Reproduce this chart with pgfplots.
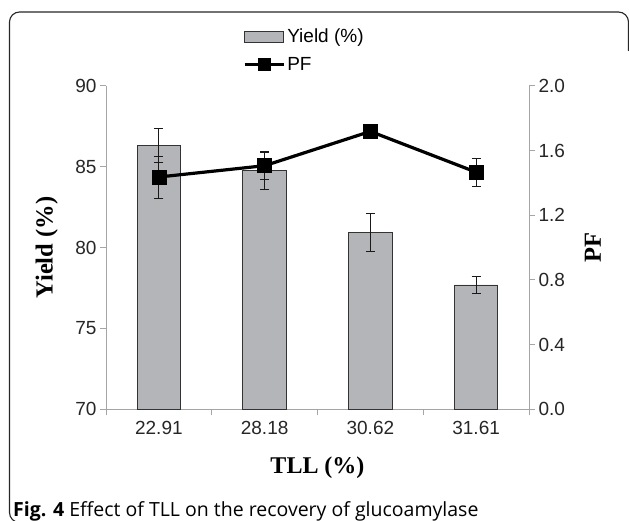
\documentclass[border=0pt]{standalone}
\usepackage{pgfplots}
\pgfplotsset{compat=1.18}
\usepackage{fontspec}
\setmainfont{Liberation Sans}
\newfontfamily\serifb{Liberation Serif}
\newfontfamily\capfont{Open Sans}

\definecolor{bargray}{RGB}{180,181,185}
\definecolor{axgray}{RGB}{165,165,165}

\pgfplotsset{
  barlegend/.style={legend image code/.code={\draw[##1] (0bp,-5.5bp) rectangle (39bp,5.5bp);}},
  linelegend/.style={legend image code/.code={\draw[##1, mark repeat=2, mark phase=2] plot coordinates {(0bp,0bp) (19.5bp,0bp) (39bp,0bp)};}},
}

\pgfplotstableread{
x y e
0 86.30 1.05
1 84.76 1.17
2 80.95 1.16
3 77.69 0.53
}\yieldtab

\pgfplotstableread{
x y e
0 1.437 0.130
1 1.507 0.085
2 1.719 0.000
3 1.467 0.088
}\pftab

\begin{document}
\begin{tikzpicture}[x=1bp,y=1bp]
\useasboundingbox (0bp,0bp) rectangle (629bp,521bp);
\draw[line width=1.1bp, color=black!85, rounded corners=10bp]
  (628.5bp,470bp) -- (628.5bp,509bp) -- (9.5bp,509bp) -- (9.5bp,-1.5bp) -- (660bp,-1.5bp);

\begin{axis}[
  at={(106bp,111.7bp)}, anchor=south west,
  scale only axis, width=423bp, height=323.3bp,
  xmin=-0.5, xmax=3.5, ymin=70, ymax=90,
  axis x line*=bottom, axis y line*=left,
  axis line style={axgray, line width=1bp},
  tick align=outside,
  major tick length=6bp, minor tick length=6bp,
  xtick={0,1,2,3}, xticklabels={22.91,28.18,30.62,31.61},
  minor xtick={-0.5,0.5,1.5,2.5,3.5},
  major x tick style={draw=none},
  minor x tick style={axgray, line width=1bp},
  ytick={70,75,80,85,90},
  y tick style={axgray, line width=1bp},
  tick label style={font=\fontsize{19bp}{22bp}\selectfont, text=black!85},
  /pgf/number format/assume math mode=true,
  xticklabel style={yshift=-2bp},
  xlabel={TLL (\%)},
  ylabel={Yield (\%)},
  every axis x label/.style={at={(axis description cs:0.5,-0.1816)}, anchor=center, font=\serifb\bfseries\fontsize{24bp}{26bp}\selectfont},
  every axis y label/.style={at={(axis description cs:-0.14,0.5)}, anchor=center, rotate=90, font=\serifb\bfseries\fontsize{24.5bp}{26bp}\selectfont},
  legend style={at={(axis description cs:0.324,1.183)}, anchor=north west, draw=none, fill=none,
    font=\fontsize{19bp}{22bp}\selectfont, row sep=9bp, inner sep=0pt, outer sep=0pt,
    /tikz/every even column/.append style={column sep=3bp}},
  legend cell align=left,
  clip=false,
]
\addplot[ybar, bar width=0.41, fill=bargray, draw=black!80, line width=0.9bp, barlegend,
  error bars/.cd, y dir=both, y explicit,
  error bar style={black!90, line width=0.8bp},
  error mark options={rotate=90, mark size=4.5bp, black!90, line width=0.8bp}]
  table[x=x, y=y, y error=e] {\yieldtab};
\addlegendentry{Yield (\%)}
\addlegendimage{black, line width=3.2bp, mark=square*, mark size=6bp, mark options={line width=0.5bp}, linelegend}
\addlegendentry{PF}
\end{axis}

\begin{axis}[
  at={(106bp,111.7bp)}, anchor=south west,
  scale only axis, width=423bp, height=323.3bp,
  xmin=-0.5, xmax=3.5, ymin=0, ymax=2,
  axis x line=none, axis y line*=right,
  axis line style={axgray, line width=1bp},
  tick align=outside, major tick length=6bp,
  ytick={0,0.4,0.8,1.2,1.6,2.0},
  y tick style={axgray, line width=1bp},
  yticklabel style={font=\fontsize{19bp}{22bp}\selectfont, text=black!85,
    /pgf/number format/.cd, fixed, fixed zerofill, precision=1},
  /pgf/number format/assume math mode=true,
  ylabel={PF},
  every axis y label/.style={at={(axis description cs:1.151,0.5)}, anchor=center, rotate=90, font=\serifb\bfseries\fontsize{24.5bp}{26bp}\selectfont},
  clip=false,
]
\addplot[black, line width=3.2bp, mark=square*, mark size=7bp, mark options={line width=0.5bp},
  error bars/.cd, y dir=both, y explicit,
  error bar style={black!90, line width=0.8bp},
  error mark options={rotate=90, mark size=4.5bp, black!90, line width=0.8bp}]
  table[x=x, y=y, y error=e] {\pftab};
\end{axis}

\node[anchor=west, inner sep=0pt, font=\capfont\fontsize{19.5bp}{22bp}\selectfont] at (13bp,10bp)
  {\textbf{Fig. 4} Effect of TLL on the recovery of glucoamylase};
\end{tikzpicture}
\end{document}
